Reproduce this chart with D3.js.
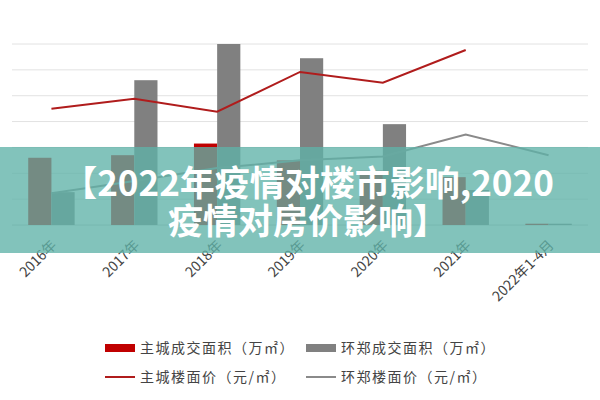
<!DOCTYPE html>
<html><head><meta charset="utf-8">
<script src="https://cdn.jsdelivr.net/npm/d3@7"></script>
<style>body{margin:0;background:#fff}</style>
</head><body>
<svg id="chart" width="600" height="400"></svg>
<script>
var categories = ["2016年","2017年","2018年","2019年","2020年","2021年","2022年1-4月"];
var mainArea = [2.6, 2.7, 3.15, 2.5, 2.1, 1.85, 0.05];
var ringArea = [1.27, 5.6, 7.0, 6.45, 3.9, 1.35, 0.05];
var mainPrice = [4.5, 4.88, 4.38, 5.92, 5.5, 6.77];
var ringPrice = [1.23, 1.7, 2.2, 2.5, 2.65, 3.5, 2.7];
var yTicks = [0,1,2,3,4,5,6,7];
var legendItems = ["主城成交面积（万㎡）","环郑成交面积（万㎡）","主城楼面价（元/㎡）","环郑楼面价（元/㎡）"];
var titleLines = ["【2022年疫情对楼市影响,2020","疫情对房价影响】"];

var svg = d3.select("#chart");
var font = "'Noto Sans CJK SC', sans-serif";

var x = d3.scaleBand().domain(categories).range([10, 590]).paddingInner(0.44).paddingOuter(0.22);
var y = d3.scaleLinear().domain([0, 7]).range([225, 44]);

// grid
svg.append("g").selectAll("line").data(yTicks).enter().append("line")
	.attr("x1", 12).attr("x2", 588)
	.attr("y1", function (d) { return y(d) }).attr("y2", function (d) { return y(d) })
	.attr("stroke", function (d) { return d == 0 ? "#ccc" : "#e2e2e2" }).attr("stroke-width", 1);

var bw = x.bandwidth() / 2;
svg.append("g").selectAll("rect").data(mainArea).enter().append("rect")
	.attr("x", function (d, i) { return x(categories[i]) })
	.attr("y", function (d) { return y(d) }).attr("width", bw)
	.attr("height", function (d) { return y(0) - y(d) }).attr("fill", "#c00000");
svg.append("g").selectAll("rect").data(ringArea).enter().append("rect")
	.attr("x", function (d, i) { return x(categories[i]) + bw })
	.attr("y", function (d) { return y(d) }).attr("width", bw)
	.attr("height", function (d) { return y(0) - y(d) }).attr("fill", "#808080");

var cx = function (d, i) { return x(categories[i]) + x.bandwidth() / 2 };
var line = d3.line().x(cx).y(function (d) { return y(d) });
svg.append("path").datum(mainPrice).attr("d", line).attr("fill", "none")
	.attr("stroke", "#b01c1c").attr("stroke-width", 2);
svg.append("path").datum(ringPrice).attr("d", line).attr("fill", "none")
	.attr("stroke", "#8a8a8a").attr("stroke-width", 2);

// x labels
svg.append("g").selectAll("text").data(categories).enter().append("text")
	.attr("transform", function (d) { return "translate(" + (x(d) + x.bandwidth() / 2 + 6) + ",246) rotate(-45)" })
	.attr("text-anchor", "end").attr("font-family", font).attr("font-size", 14)
	.attr("fill", "#444").text(function (d) { return d });

// legend
var lg = svg.append("g").attr("font-family", font).attr("font-size", 14).attr("fill", "#444")
	.attr("letter-spacing", 1.5);
legendItems.forEach(function (t, i) {
	var lx = i % 2 == 0 ? 105 : 306, ly = i < 2 ? 348 : 377;
	if (i < 2) lg.append("rect").attr("x", lx).attr("y", ly - 4).attr("width", 30).attr("height", 8)
		.attr("fill", i == 0 ? "#c00000" : "#808080");
	else lg.append("line").attr("x1", lx).attr("x2", lx + 30).attr("y1", ly).attr("y2", ly)
		.attr("stroke", i == 2 ? "#b01c1c" : "#8a8a8a").attr("stroke-width", 2);
	lg.append("text").attr("x", lx + 35).attr("y", ly + 5).text(t);
});

// title banner
svg.append("rect").attr("x", 0).attr("y", 147).attr("width", 600).attr("height", 106)
	.attr("fill", "rgba(95,178,168,0.78)");
svg.append("g").selectAll("text").data(titleLines).enter().append("text")
	.attr("x", 308).attr("y", function (d, i) { return 196 + i * 38 })
	.attr("text-anchor", "middle").attr("font-family", font).attr("font-weight", "bold")
	.attr("font-size", 35).attr("fill", "#fff").text(function (d) { return d });
</script>
</body></html>
